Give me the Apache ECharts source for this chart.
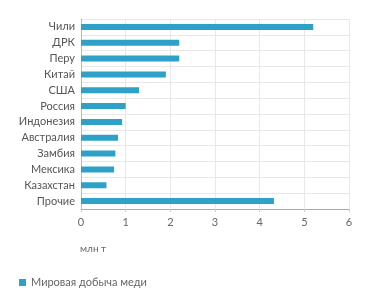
<!DOCTYPE html>
<html><head><meta charset="utf-8">
<script src="https://cdn.jsdelivr.net/npm/echarts@6/dist/echarts.min.js"></script>
<style>html,body{margin:0;padding:0;background:#fff}#c{width:371px;height:303px}</style>
</head><body><div id="c"></div>
<script>
const categories = ['Чили','ДРК','Перу','Китай','США','Россия','Индонезия','Австралия','Замбия','Мексика','Казахстан','Прочие'];
const values = [5.2, 2.2, 2.2, 1.9, 1.3, 1.0, 0.92, 0.83, 0.77, 0.74, 0.57, 4.32];
const xTicks = [0, 1, 2, 3, 4, 5, 6];
const seriesName = 'Мировая добыча меди';
const unitLabel = 'млн т';

const font = 'Lato, "Open Sans", sans-serif';
const chart = echarts.init(document.getElementById('c'), null, {renderer: 'canvas'});
chart.setOption({
  animation: false,
  textStyle: {fontFamily: font},
  grid: {left: 81, right: 22, top: 19, bottom: 94, containLabel: false},
  legend: {
    left: 14, top: 272, itemWidth: 7, itemHeight: 7, itemGap: 10,
    icon: 'rect',
    textStyle: {color: '#666', fontSize: 11, fontFamily: font},
    data: [seriesName]
  },
  graphic: [{
    type: 'text', left: 80, top: 244,
    style: {text: unitLabel, fill: '#666', font: '10px ' + font}
  }],
  xAxis: {
    type: 'value', min: xTicks[0], max: xTicks[xTicks.length - 1], interval: 1,
    axisLine: {show: true, lineStyle: {color: '#aaa', width: 1}},
    axisTick: {show: true, length: 3, lineStyle: {color: '#ccc'}},
    axisLabel: {color: '#666', fontSize: 11, margin: 8, fontFamily: font},
    splitLine: {show: true, lineStyle: {color: '#e8e8e8', width: 1}}
  },
  yAxis: {
    type: 'category', inverse: true, data: categories,
    axisLine: {show: true, lineStyle: {color: '#bbb'}},
    axisTick: {show: false},
    axisLabel: {color: '#555', fontSize: 11, margin: 6, fontFamily: font},
    splitLine: {show: true, lineStyle: {color: '#e8e8e8', width: 1}}
  },
  series: [{
    name: seriesName, type: 'bar', data: values,
    barWidth: 6,
    itemStyle: {color: '#2ea1c9'}
  }]
});
</script></body></html>
